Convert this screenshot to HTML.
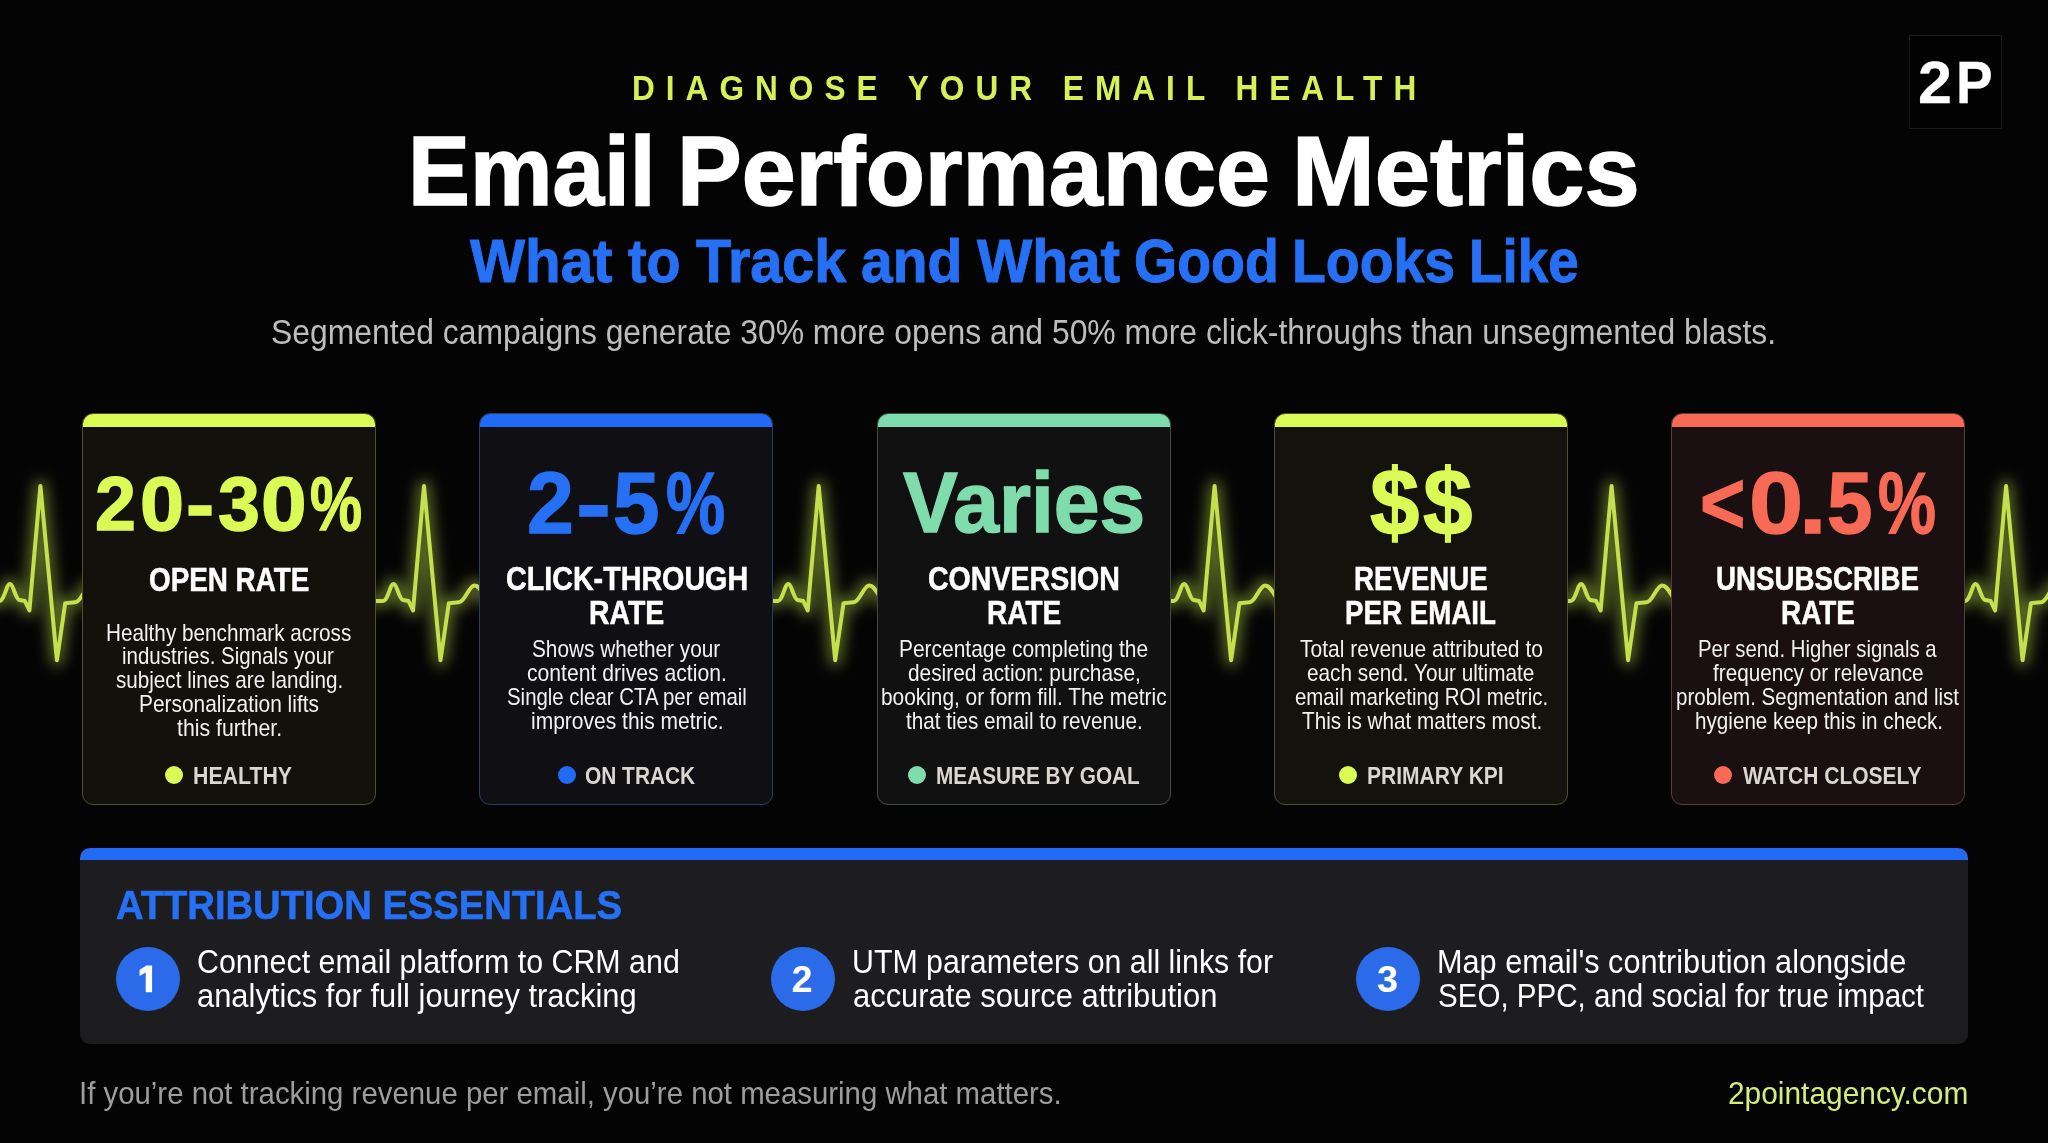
<!DOCTYPE html>
<html><head><meta charset="utf-8"><title>Email Performance Metrics</title>
<style>
html,body{margin:0;padding:0;}
body{width:2048px;height:1143px;overflow:hidden;background:#040405;position:relative;font-family:"Liberation Sans",sans-serif;}
.t{position:absolute;white-space:nowrap;line-height:1;transform-origin:0 0;}
.card{position:absolute;top:413px;width:292px;height:390px;border:1.5px solid;border-radius:11px;overflow:hidden;}
.bar{position:absolute;left:-2px;right:-2px;top:-2px;height:14.5px;}
.dot{position:absolute;top:766px;width:18px;height:18px;border-radius:50%;}
.logo{position:absolute;left:1909px;top:35px;width:91px;height:92px;border:1.5px solid #1a1a1a;background:#020202;}
.panel{position:absolute;left:80px;top:848px;width:1887.5px;height:195.5px;background:#1d1c1f;border-radius:10px;overflow:hidden;}
.panel .pbar{position:absolute;left:0;right:0;top:0;height:12px;background:#226bf4;}
.circ{position:absolute;top:947px;width:64px;height:64px;border-radius:50%;background:#2b6ae8;}
.num{position:absolute;top:947px;width:64px;height:64px;}
svg.hb{position:absolute;left:0;top:0;}
</style></head><body>
<svg class="hb" width="2048" height="1143" viewBox="0 0 2048 1143">
<defs><filter id="glow" x="-20%" y="-50%" width="140%" height="200%"><feGaussianBlur stdDeviation="7"/></filter></defs>
<path d="M-40,601 L-0.6,601 C4.4,601 6.4,584 9.9,584 C13.4,584 15.4,599.5 19.4,600 L24.9,601 L29.4,610.5 L40.4,486 L56.9,660.2 L65.2,603.2 L75.3,602.3 C81.4,602 85.4,585.4 90.9,585.4 C95.4,585.4 98.4,592 102.4,598 L110.4,601 L383.0,601 C388.0,601 390.0,584 393.5,584 C397.0,584 399.0,599.5 403.0,600 L408.5,601 L413.0,610.5 L424.0,486 L440.5,660.2 L448.8,603.2 L458.9,602.3 C465.0,602 469.0,585.4 474.5,585.4 C479.0,585.4 482.0,592 486.0,598 L494.0,601 L777.7,601 C782.7,601 784.7,584 788.2,584 C791.7,584 793.7,599.5 797.7,600 L803.2,601 L807.7,610.5 L818.7,486 L835.2,660.2 L843.5,603.2 L853.6,602.3 C859.7,602 863.7,585.4 869.2,585.4 C873.7,585.4 876.7,592 880.7,598 L888.7,601 L1173.6,601 C1178.6,601 1180.6,584 1184.1,584 C1187.6,584 1189.6,599.5 1193.6,600 L1199.1,601 L1203.6,610.5 L1214.6,486 L1231.1,660.2 L1239.4,603.2 L1249.5,602.3 C1255.6,602 1259.6,585.4 1265.1,585.4 C1269.6,585.4 1272.6,592 1276.6,598 L1284.6,601 L1570.6,601 C1575.6,601 1577.6,584 1581.1,584 C1584.6,584 1586.6,599.5 1590.6,600 L1596.1,601 L1600.6,610.5 L1611.6,486 L1628.1,660.2 L1636.4,603.2 L1646.5,602.3 C1652.6,602 1656.6,585.4 1662.1,585.4 C1666.6,585.4 1669.6,592 1673.6,598 L1681.6,601 L1965.1,601 C1970.1,601 1972.1,584 1975.6,584 C1979.1,584 1981.1,599.5 1985.1,600 L1990.6,601 L1995.1,610.5 L2006.1,486 L2022.6,660.2 L2030.9,603.2 L2041.0,602.3 C2047.1,602 2051.1,585.4 2056.6,585.4 C2061.1,585.4 2064.1,592 2068.1,598 L2076.1,601 L2100,601" fill="none" stroke="#c2dc48" stroke-opacity="0.45" stroke-width="13" stroke-linejoin="round" stroke-linecap="round" filter="url(#glow)"/>
<path d="M-40,601 L-0.6,601 C4.4,601 6.4,584 9.9,584 C13.4,584 15.4,599.5 19.4,600 L24.9,601 L29.4,610.5 L40.4,486 L56.9,660.2 L65.2,603.2 L75.3,602.3 C81.4,602 85.4,585.4 90.9,585.4 C95.4,585.4 98.4,592 102.4,598 L110.4,601 L383.0,601 C388.0,601 390.0,584 393.5,584 C397.0,584 399.0,599.5 403.0,600 L408.5,601 L413.0,610.5 L424.0,486 L440.5,660.2 L448.8,603.2 L458.9,602.3 C465.0,602 469.0,585.4 474.5,585.4 C479.0,585.4 482.0,592 486.0,598 L494.0,601 L777.7,601 C782.7,601 784.7,584 788.2,584 C791.7,584 793.7,599.5 797.7,600 L803.2,601 L807.7,610.5 L818.7,486 L835.2,660.2 L843.5,603.2 L853.6,602.3 C859.7,602 863.7,585.4 869.2,585.4 C873.7,585.4 876.7,592 880.7,598 L888.7,601 L1173.6,601 C1178.6,601 1180.6,584 1184.1,584 C1187.6,584 1189.6,599.5 1193.6,600 L1199.1,601 L1203.6,610.5 L1214.6,486 L1231.1,660.2 L1239.4,603.2 L1249.5,602.3 C1255.6,602 1259.6,585.4 1265.1,585.4 C1269.6,585.4 1272.6,592 1276.6,598 L1284.6,601 L1570.6,601 C1575.6,601 1577.6,584 1581.1,584 C1584.6,584 1586.6,599.5 1590.6,600 L1596.1,601 L1600.6,610.5 L1611.6,486 L1628.1,660.2 L1636.4,603.2 L1646.5,602.3 C1652.6,602 1656.6,585.4 1662.1,585.4 C1666.6,585.4 1669.6,592 1673.6,598 L1681.6,601 L1965.1,601 C1970.1,601 1972.1,584 1975.6,584 C1979.1,584 1981.1,599.5 1985.1,600 L1990.6,601 L1995.1,610.5 L2006.1,486 L2022.6,660.2 L2030.9,603.2 L2041.0,602.3 C2047.1,602 2051.1,585.4 2056.6,585.4 C2061.1,585.4 2064.1,592 2068.1,598 L2076.1,601 L2100,601" fill="none" stroke="#c6df4f" stroke-width="4.0" stroke-linejoin="round" stroke-linecap="round"/>
</svg>
<div class="card" style="left:82px;background:#12110b;border-color:#4e512c"><div class="bar" style="background:#dafa55"></div></div><div class="card" style="left:479.25px;background:#100f13;border-color:#2c3a66"><div class="bar" style="background:#216af5"></div></div><div class="card" style="left:876.5px;background:#121112;border-color:#3d4c44"><div class="bar" style="background:#7edcad"></div></div><div class="card" style="left:1273.75px;background:#13120c;border-color:#4e512c"><div class="bar" style="background:#dafa55"></div></div><div class="card" style="left:1671px;background:#1a1011;border-color:#5a3c38"><div class="bar" style="background:#f86a55"></div></div>
<div class="dot" style="left:165.4px;background:#dafa55"></div><div class="dot" style="left:557.6px;background:#216af5"></div><div class="dot" style="left:908.1px;background:#7edcad"></div><div class="dot" style="left:1338.9px;background:#dafa55"></div><div class="dot" style="left:1714px;background:#f86a55"></div>
<div class="logo"></div>
<div class="panel"><div class="pbar"></div></div>
<div class="circ" style="left:115.6px"></div><div class="circ" style="left:770.5px"></div><div class="circ" style="left:1355.6px"></div>
<div class="t" style="left:631.95px;top:70.50px;font-size:34.16px;font-weight:700;color:#d8f058;letter-spacing:11.898px;transform:scaleX(0.9250)">DIAGNOSE YOUR EMAIL HEALTH</div>
<div class="t" style="left:407.87px;top:121.60px;font-size:98.84px;font-weight:700;color:#ffffff;-webkit-text-stroke:1.6px #ffffff;transform:scaleX(0.9389)">Email</div>
<div class="t" style="left:677.41px;top:121.60px;font-size:98.84px;font-weight:700;color:#ffffff;-webkit-text-stroke:1.6px #ffffff;transform:scaleX(0.9812)">Performance</div>
<div class="t" style="left:1292.17px;top:121.60px;font-size:98.84px;font-weight:700;color:#ffffff;-webkit-text-stroke:1.6px #ffffff;transform:scaleX(1.0053)">Metrics</div>
<div class="t" style="left:469.50px;top:231.40px;font-size:60.76px;font-weight:700;color:#2670f6;-webkit-text-stroke:1.0px #2670f6;transform:scaleX(0.9601)">What</div>
<div class="t" style="left:628.40px;top:231.40px;font-size:60.76px;font-weight:700;color:#2670f6;-webkit-text-stroke:1.0px #2670f6;transform:scaleX(0.9161)">to</div>
<div class="t" style="left:695.80px;top:231.40px;font-size:60.76px;font-weight:700;color:#2670f6;-webkit-text-stroke:1.0px #2670f6;transform:scaleX(0.9472)">Track</div>
<div class="t" style="left:860.86px;top:231.40px;font-size:60.76px;font-weight:700;color:#2670f6;-webkit-text-stroke:1.0px #2670f6;transform:scaleX(0.9365)">and</div>
<div class="t" style="left:976.80px;top:231.40px;font-size:60.76px;font-weight:700;color:#2670f6;-webkit-text-stroke:1.0px #2670f6;transform:scaleX(0.9628)">What</div>
<div class="t" style="left:1134.37px;top:231.40px;font-size:60.76px;font-weight:700;color:#2670f6;-webkit-text-stroke:1.0px #2670f6;transform:scaleX(0.9137)">Good</div>
<div class="t" style="left:1292.36px;top:231.40px;font-size:60.76px;font-weight:700;color:#2670f6;-webkit-text-stroke:1.0px #2670f6;transform:scaleX(0.9121)">Looks</div>
<div class="t" style="left:1469.39px;top:231.40px;font-size:60.76px;font-weight:700;color:#2670f6;-webkit-text-stroke:1.0px #2670f6;transform:scaleX(0.9017)">Like</div>
<div class="t" style="left:271.43px;top:315.30px;font-size:35.9px;font-weight:400;color:#bdbdbd;transform:scaleX(0.8875)">Segmented campaigns generate 30% more opens and 50% more click-throughs than unsegmented blasts.</div>
<div class="t" style="left:1918.06px;top:52.85px;font-size:59.88px;font-weight:700;color:#ffffff;-webkit-text-stroke:0.3px #ffffff;transform:scaleX(1.0207)">2</div>
<div class="t" style="left:1956.33px;top:52.85px;font-size:59.88px;font-weight:700;color:#ffffff;-webkit-text-stroke:0.3px #ffffff;transform:scaleX(0.9176)">P</div>
<div class="t" style="left:95.16px;top:465.80px;font-size:76.02px;font-weight:700;color:#dbfa55;-webkit-text-stroke:1.4px #dbfa55;transform:scaleX(0.9684)">2</div>
<div class="t" style="left:139.72px;top:465.80px;font-size:76.02px;font-weight:700;color:#dbfa55;-webkit-text-stroke:1.4px #dbfa55;transform:scaleX(1.0421)">0</div>
<div class="t" style="left:185.67px;top:465.80px;font-size:76.02px;font-weight:700;color:#dbfa55;-webkit-text-stroke:1.4px #dbfa55;transform:scaleX(1.1143)">-</div>
<div class="t" style="left:217.71px;top:465.80px;font-size:76.02px;font-weight:700;color:#dbfa55;-webkit-text-stroke:1.4px #dbfa55;transform:scaleX(0.9923)">3</div>
<div class="t" style="left:261.14px;top:465.80px;font-size:76.02px;font-weight:700;color:#dbfa55;-webkit-text-stroke:1.4px #dbfa55;transform:scaleX(1.0789)">0</div>
<div class="t" style="left:310.23px;top:465.80px;font-size:76.02px;font-weight:700;color:#dbfa55;-webkit-text-stroke:1.4px #dbfa55;transform:scaleX(0.7692)">%</div>
<div class="t" style="left:526.86px;top:458.80px;font-size:87.06px;font-weight:700;color:#2670f6;-webkit-text-stroke:1.4px #2670f6;transform:scaleX(0.9682)">2</div>
<div class="t" style="left:575.57px;top:458.80px;font-size:87.06px;font-weight:700;color:#2670f6;-webkit-text-stroke:1.4px #2670f6;transform:scaleX(1.2087)">-</div>
<div class="t" style="left:613.48px;top:458.80px;font-size:87.06px;font-weight:700;color:#2670f6;-webkit-text-stroke:1.4px #2670f6;transform:scaleX(0.9600)">5</div>
<div class="t" style="left:665.74px;top:458.80px;font-size:87.06px;font-weight:700;color:#2670f6;-webkit-text-stroke:1.4px #2670f6;transform:scaleX(0.7640)">%</div>
<div class="t" style="left:903.40px;top:459.90px;font-size:85.03px;font-weight:700;color:#7edcad;-webkit-text-stroke:1.4px #7edcad;transform:scaleX(0.9665)">Varies</div>
<div class="t" style="left:1369.57px;top:454.70px;font-size:95.06px;font-weight:700;color:#dbfa55;-webkit-text-stroke:1.4px #dbfa55;transform:scaleX(0.9333)">$</div>
<div class="t" style="left:1423.06px;top:454.70px;font-size:95.06px;font-weight:700;color:#dbfa55;-webkit-text-stroke:1.4px #dbfa55;transform:scaleX(0.9353)">$</div>
<div class="t" style="left:1700.05px;top:459.30px;font-size:87.94px;font-weight:700;color:#f86a55;-webkit-text-stroke:1.4px #f86a55;transform:scaleX(0.8826)">&lt;</div>
<div class="t" style="left:1748.88px;top:459.30px;font-size:87.94px;font-weight:700;color:#f86a55;-webkit-text-stroke:1.4px #f86a55;transform:scaleX(1.1070)">0</div>
<div class="t" style="left:1798.66px;top:459.30px;font-size:87.94px;font-weight:700;color:#f86a55;-webkit-text-stroke:1.4px #f86a55;transform:scaleX(1.1286)">.</div>
<div class="t" style="left:1826.54px;top:459.30px;font-size:87.94px;font-weight:700;color:#f86a55;-webkit-text-stroke:1.4px #f86a55;transform:scaleX(0.9311)">5</div>
<div class="t" style="left:1878.46px;top:459.30px;font-size:87.94px;font-weight:700;color:#f86a55;-webkit-text-stroke:1.4px #f86a55;transform:scaleX(0.7421)">%</div>
<div class="t" style="left:148.86px;top:562.75px;font-size:33.2px;font-weight:700;color:#ffffff;-webkit-text-stroke:0.5px #ffffff;transform:scaleX(0.8386)">OPEN RATE</div>
<div class="t" style="left:505.94px;top:562.45px;font-size:33.2px;font-weight:700;color:#ffffff;-webkit-text-stroke:0.5px #ffffff;transform:scaleX(0.8640)">CLICK-THROUGH</div>
<div class="t" style="left:588.59px;top:595.95px;font-size:33.2px;font-weight:700;color:#ffffff;-webkit-text-stroke:0.5px #ffffff;transform:scaleX(0.8553)">RATE</div>
<div class="t" style="left:928.04px;top:562.45px;font-size:33.2px;font-weight:700;color:#ffffff;-webkit-text-stroke:0.5px #ffffff;transform:scaleX(0.8602)">CONVERSION</div>
<div class="t" style="left:986.61px;top:596.15px;font-size:33.2px;font-weight:700;color:#ffffff;-webkit-text-stroke:0.5px #ffffff;transform:scaleX(0.8447)">RATE</div>
<div class="t" style="left:1353.93px;top:562.45px;font-size:33.2px;font-weight:700;color:#ffffff;-webkit-text-stroke:0.5px #ffffff;transform:scaleX(0.8335)">REVENUE</div>
<div class="t" style="left:1345.43px;top:596.15px;font-size:33.2px;font-weight:700;color:#ffffff;-webkit-text-stroke:0.5px #ffffff;transform:scaleX(0.8354)">PER EMAIL</div>
<div class="t" style="left:1716.23px;top:562.45px;font-size:33.2px;font-weight:700;color:#ffffff;-webkit-text-stroke:0.5px #ffffff;transform:scaleX(0.8344)">UNSUBSCRIBE</div>
<div class="t" style="left:1781.32px;top:596.15px;font-size:33.2px;font-weight:700;color:#ffffff;-webkit-text-stroke:0.5px #ffffff;transform:scaleX(0.8412)">RATE</div>
<div class="t" style="left:106.43px;top:621.60px;font-size:23.4px;font-weight:400;color:#f2f2f2;transform:scaleX(0.8858)">Healthy benchmark across</div>
<div class="t" style="left:122.32px;top:645.40px;font-size:23.4px;font-weight:400;color:#f2f2f2;transform:scaleX(0.8763)">industries. Signals your</div>
<div class="t" style="left:115.82px;top:669.20px;font-size:23.4px;font-weight:400;color:#f2f2f2;transform:scaleX(0.8824)">subject lines are landing.</div>
<div class="t" style="left:138.71px;top:693.10px;font-size:23.4px;font-weight:400;color:#f2f2f2;transform:scaleX(0.8930)">Personalization lifts</div>
<div class="t" style="left:177.40px;top:717.00px;font-size:23.4px;font-weight:400;color:#f2f2f2;transform:scaleX(0.9088)">this further.</div>
<div class="t" style="left:532.21px;top:638.20px;font-size:23.4px;font-weight:400;color:#f2f2f2;transform:scaleX(0.8882)">Shows whether your</div>
<div class="t" style="left:527.00px;top:662.30px;font-size:23.4px;font-weight:400;color:#f2f2f2;transform:scaleX(0.9041)">content drives action.</div>
<div class="t" style="left:506.93px;top:686.10px;font-size:23.4px;font-weight:400;color:#f2f2f2;transform:scaleX(0.8718)">Single clear CTA per email</div>
<div class="t" style="left:530.70px;top:709.90px;font-size:23.4px;font-weight:400;color:#f2f2f2;transform:scaleX(0.8981)">improves this metric.</div>
<div class="t" style="left:899.01px;top:638.20px;font-size:23.4px;font-weight:400;color:#f2f2f2;transform:scaleX(0.8953)">Percentage completing the</div>
<div class="t" style="left:908.11px;top:662.30px;font-size:23.4px;font-weight:400;color:#f2f2f2;transform:scaleX(0.8907)">desired action: purchase,</div>
<div class="t" style="left:881.31px;top:686.10px;font-size:23.4px;font-weight:400;color:#f2f2f2;transform:scaleX(0.8906)">booking, or form fill. The metric</div>
<div class="t" style="left:906.00px;top:709.90px;font-size:23.4px;font-weight:400;color:#f2f2f2;transform:scaleX(0.8835)">that ties email to revenue.</div>
<div class="t" style="left:1300.00px;top:638.20px;font-size:23.4px;font-weight:400;color:#f2f2f2;transform:scaleX(0.8981)">Total revenue attributed to</div>
<div class="t" style="left:1307.31px;top:662.30px;font-size:23.4px;font-weight:400;color:#f2f2f2;transform:scaleX(0.8874)">each send. Your ultimate</div>
<div class="t" style="left:1294.73px;top:686.10px;font-size:23.4px;font-weight:400;color:#f2f2f2;transform:scaleX(0.8732)">email marketing ROI metric.</div>
<div class="t" style="left:1302.30px;top:709.90px;font-size:23.4px;font-weight:400;color:#f2f2f2;transform:scaleX(0.8841)">This is what matters most.</div>
<div class="t" style="left:1698.26px;top:638.20px;font-size:23.4px;font-weight:400;color:#f2f2f2;transform:scaleX(0.8695)">Per send. Higher signals a</div>
<div class="t" style="left:1713.40px;top:662.30px;font-size:23.4px;font-weight:400;color:#f2f2f2;transform:scaleX(0.8852)">frequency or relevance</div>
<div class="t" style="left:1676.12px;top:686.10px;font-size:23.4px;font-weight:400;color:#f2f2f2;transform:scaleX(0.8776)">problem. Segmentation and list</div>
<div class="t" style="left:1694.62px;top:709.90px;font-size:23.4px;font-weight:400;color:#f2f2f2;transform:scaleX(0.8831)">hygiene keep this in check.</div>
<div class="t" style="left:192.69px;top:765.00px;font-size:23.5px;font-weight:700;color:#dad6d0;transform:scaleX(0.9065)">HEALTHY</div>
<div class="t" style="left:585.01px;top:765.00px;font-size:23.5px;font-weight:700;color:#dad6d0;transform:scaleX(0.8886)">ON TRACK</div>
<div class="t" style="left:935.62px;top:765.00px;font-size:23.5px;font-weight:700;color:#dad6d0;transform:scaleX(0.8834)">MEASURE BY GOAL</div>
<div class="t" style="left:1366.51px;top:765.00px;font-size:23.5px;font-weight:700;color:#dad6d0;transform:scaleX(0.8947)">PRIMARY KPI</div>
<div class="t" style="left:1743.20px;top:765.00px;font-size:23.5px;font-weight:700;color:#dad6d0;transform:scaleX(0.8935)">WATCH CLOSELY</div>
<div class="t" style="left:116.18px;top:884.70px;font-size:41.28px;font-weight:700;color:#2670f6;-webkit-text-stroke:0.6px #2670f6;transform:scaleX(0.9248)">ATTRIBUTION ESSENTIALS</div>
<div class="t" style="left:196.54px;top:945.50px;font-size:32.6px;font-weight:400;color:#ffffff;transform:scaleX(0.9323)">Connect email platform to CRM and</div>
<div class="t" style="left:197.45px;top:979.80px;font-size:32.6px;font-weight:400;color:#ffffff;transform:scaleX(0.9484)">analytics for full journey tracking</div>
<div class="t" style="left:852.04px;top:945.50px;font-size:32.6px;font-weight:400;color:#ffffff;transform:scaleX(0.9302)">UTM parameters on all links for</div>
<div class="t" style="left:852.95px;top:979.80px;font-size:32.6px;font-weight:400;color:#ffffff;transform:scaleX(0.9491)">accurate source attribution</div>
<div class="t" style="left:1436.88px;top:945.50px;font-size:32.6px;font-weight:400;color:#ffffff;transform:scaleX(0.9410)">Map email's contribution alongside</div>
<div class="t" style="left:1437.89px;top:979.80px;font-size:32.6px;font-weight:400;color:#ffffff;transform:scaleX(0.9069)">SEO, PPC, and social for true impact</div>
<div class="t" style="left:78.67px;top:1076.70px;font-size:32.27px;font-weight:400;color:#9d9d9d;transform:scaleX(0.9102)">If you’re not tracking revenue per email, you’re not measuring what matters.</div>
<div class="t" style="left:1727.97px;top:1076.70px;font-size:32.27px;font-weight:400;color:#d6ec7c;transform:scaleX(0.9261)">2pointagency.com</div>
<div class="t" style="left:791.40px;top:961.30px;font-size:37.5px;font-weight:700;color:#ffffff">2</div>
<div class="t" style="left:1377.10px;top:961.30px;font-size:37.5px;font-weight:700;color:#ffffff">3</div>
<svg style="position:absolute;left:0;top:0" width="2048" height="1143"><path d="M139.6,969.9 L146.3,965.6 L152.1,965.6 L152.1,992.2 L145.7,992.2 L145.7,972.6 L139.6,975.9 Z" fill="#ffffff"/></svg>
</body></html>
